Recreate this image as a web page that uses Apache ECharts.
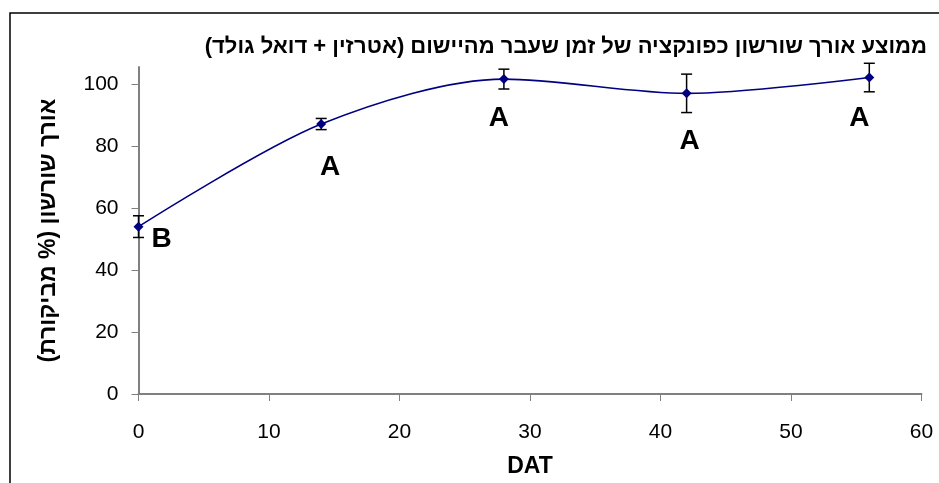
<!DOCTYPE html>
<html>
<head>
<meta charset="utf-8">
<script src="https://cdn.jsdelivr.net/npm/echarts@6/dist/echarts.min.js"></script>
<style>
  html, body { margin: 0; padding: 0; background: #fff; overflow: hidden; }
  #chart { width: 939px; height: 483px; }
</style>
</head>
<body>
<div id="chart" dir="rtl"></div>
<script>
// Days after treatment (DAT) and mean rootlet length, % of control
const days = [0, 14, 28, 42, 56];
const rootLength = [54.0, 87.1, 101.6, 97.0, 102.1];
const stdError = [3.5, 1.8, 3.2, 6.2, 4.6];
const groupLetters = ['B', 'A', 'A', 'A', 'A'];

const xTicks = [0, 10, 20, 30, 40, 50, 60];
const yTicks = [0, 20, 40, 60, 80, 100];

const titleText = 'ממוצע אורך שורשון כפונקציה של זמן שעבר מהיישום (אטרזין + דואל גולד)';
const yName = 'אורך שורשון (% מביקורת)';
const xName = 'DAT';

// where each significance letter sits relative to its point (px)
const letterOffsets = [[23, 13], [9, 43], [-5, 39], [3, 48], [-10, 41]];

const FONT = '"Liberation Sans", Arial, sans-serif';
const navy = '#000080';

const lineData = days.map((d, i) => ({
  value: [d, rootLength[i]],
  label: { offset: letterOffsets[i] }
}));
const errData = days.map((d, i) => [d, rootLength[i] - stdError[i], rootLength[i] + stdError[i]]);

const chart = echarts.init(document.getElementById('chart'), null, { renderer: 'canvas' });

chart.setOption({
  animation: false,
  backgroundColor: '#fff',
  title: {
    text: titleText,
    right: 7,
    top: 31,
    textStyle: { fontFamily: FONT, fontWeight: 'bold', fontSize: 22, color: '#000' }
  },
  graphic: [{
    type: 'rect',
    shape: { x: 10, y: 13, width: 1200, height: 1200 },
    style: { fill: null, stroke: '#000', lineWidth: 1.5 },
    silent: true
  }],
  grid: { left: 138.5, right: 17.5, top: 67, bottom: 89 },
  xAxis: {
    type: 'value',
    min: xTicks[0],
    max: xTicks[xTicks.length - 1],
    interval: 10,
    name: xName,
    nameLocation: 'middle',
    nameGap: 61,
    nameTextStyle: { fontFamily: FONT, fontWeight: 'bold', fontSize: 23, color: '#000' },
    axisLine: { onZero: false, lineStyle: { color: '#808080', width: 2 } },
    axisTick: { show: true, length: 7, inside: false, lineStyle: { color: '#808080', width: 1 } },
    axisLabel: { margin: 28, fontFamily: FONT, fontSize: 21, color: '#000' },
    splitLine: { show: false }
  },
  yAxis: {
    type: 'value',
    min: 0,
    max: 105.5,
    name: yName,
    nameLocation: 'middle',
    nameRotate: 90,
    nameGap: 78,
    nameTextStyle: { fontFamily: FONT, fontWeight: 'bold', fontSize: 23, color: '#000' },
    axisLine: { show: true, onZero: false, lineStyle: { color: '#808080', width: 2 } },
    axisTick: { show: true, length: 7, lineStyle: { color: '#808080', width: 1 }, customValues: yTicks },
    axisLabel: { margin: 20, fontFamily: FONT, fontSize: 21, color: '#000', customValues: yTicks },
    splitLine: { show: false }
  },
  series: [
    {
      type: 'custom',
      name: 'error',
      data: errData,
      z: 3,
      renderItem: function (params, api) {
        const x = api.value(0);
        const lo = api.coord([x, api.value(1)]);
        const hi = api.coord([x, api.value(2)]);
        const cap = 5.5;
        const style = { stroke: '#000', lineWidth: 1.5 };
        return {
          type: 'group',
          children: [
            { type: 'line', shape: { x1: lo[0], y1: lo[1], x2: hi[0], y2: hi[1] }, style },
            { type: 'line', shape: { x1: lo[0] - cap, y1: lo[1], x2: lo[0] + cap, y2: lo[1] }, style },
            { type: 'line', shape: { x1: hi[0] - cap, y1: hi[1], x2: hi[0] + cap, y2: hi[1] }, style }
          ]
        };
      }
    },
    {
      type: 'line',
      name: 'rootlet',
      data: lineData,
      smooth: 0.3,
      z: 4,
      symbol: 'diamond',
      symbolSize: 10,
      lineStyle: { color: navy, width: 1.6 },
      itemStyle: { color: navy },
      label: {
        show: true,
        position: 'inside',
        formatter: (p) => groupLetters[p.dataIndex],
        fontFamily: FONT,
        fontWeight: 'bold',
        fontSize: 28,
        color: '#000'
      }
    }
  ]
});
</script>
</body>
</html>
